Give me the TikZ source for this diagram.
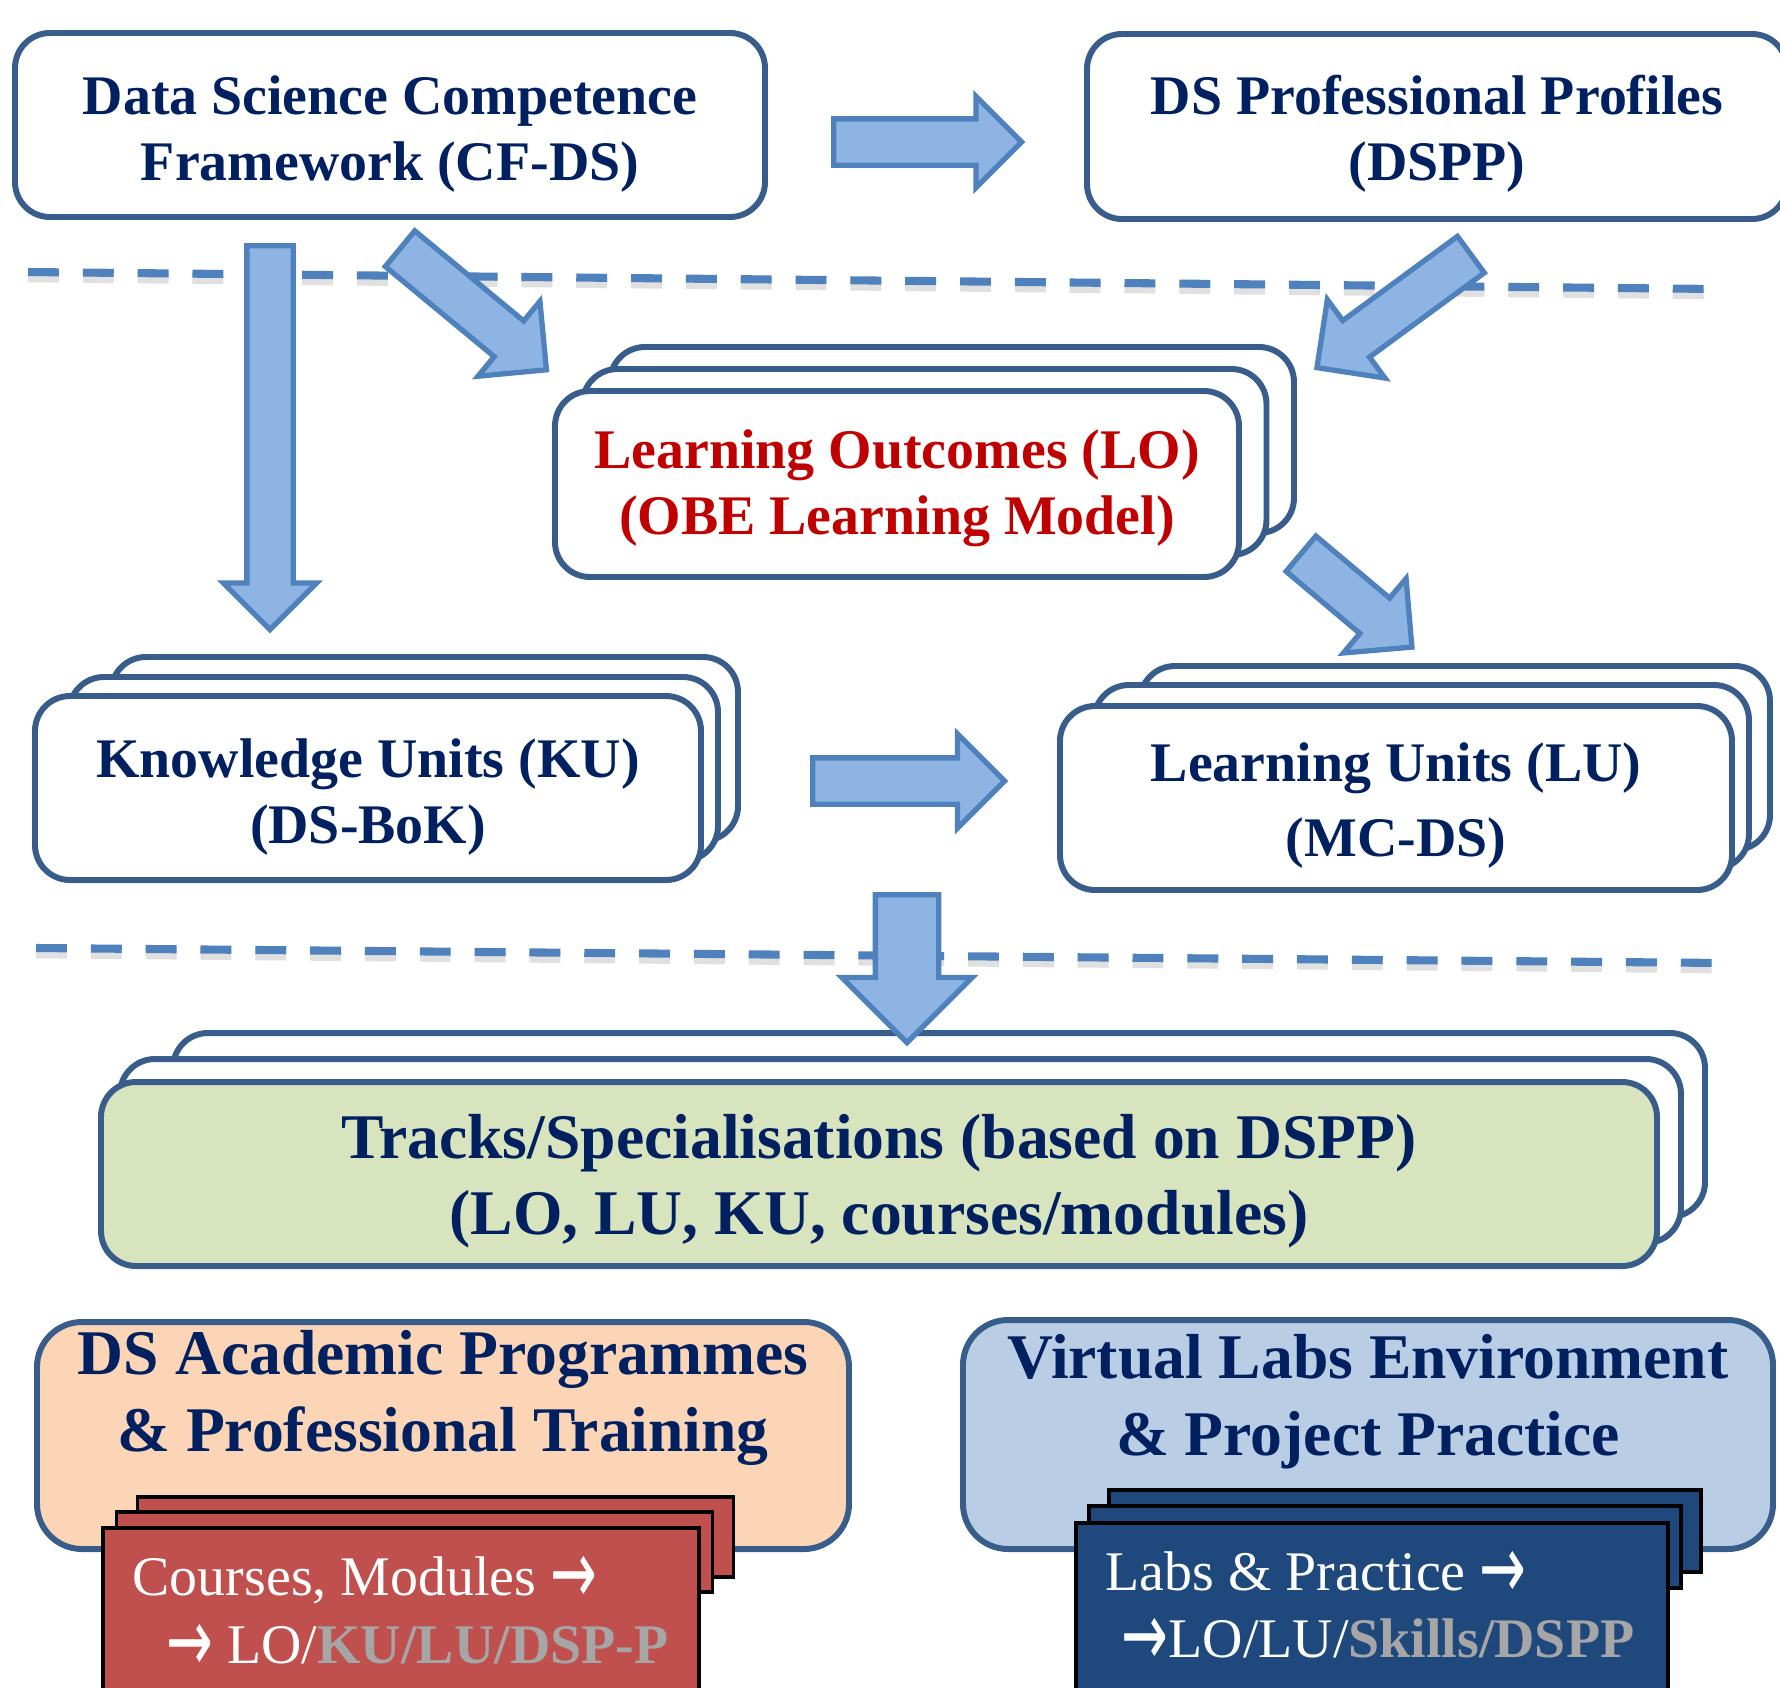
\documentclass[tikz,border=0pt]{standalone}
\usepackage{graphicx}
\usepackage{fontspec}
\setmainfont{Liberation Serif}
\newfontfamily\arrowfont{DejaVu Sans}
\usepackage{tikz}
\usetikzlibrary{positioning}
\usetikzlibrary{shapes.arrows}

\definecolor{boxline}{RGB}{56,93,138}
\definecolor{dsnavy}{RGB}{0,32,96}
\definecolor{lored}{RGB}{192,0,0}
\definecolor{arrowfill}{RGB}{141,180,226}
\definecolor{arrowline}{RGB}{79,129,189}
\definecolor{trackgreen}{RGB}{215,228,189}
\definecolor{progpeach}{RGB}{251,213,181}
\definecolor{labblue}{RGB}{185,205,229}
\definecolor{coursered}{RGB}{192,80,77}
\definecolor{labnavy}{RGB}{31,73,125}
\definecolor{softgray}{RGB}{166,166,166}

% pushes the box text a little down
\newcommand{\boxstrut}[1][0.54cm]{\rule{0pt}{#1}}
% arrow glyph used on the cards
\newcommand{\cardarrow}{{\arrowfont\raisebox{-0.16em}{\scalebox{1}[1.6]{→}}}}

\tikzset{
    box/.style={draw=boxline, line width=1.7pt, fill=white,
        rounded corners=0.35cm, inner sep=0pt, align=center,
        text=dsnavy, font=\bfseries\fontsize{15.9}{18.8}\selectfont},
    blockarrow/.style={single arrow, draw=arrowline, fill=arrowfill,
        line width=1.5pt, inner sep=0pt, single arrow tip angle=90,
        anchor=tail},
    dashline/.style={draw=arrowline, line width=2.3pt,
        dash pattern=on 8.8pt off 6.8pt},
    dashshadow/.style={draw=black!12, line width=3pt,
        dash pattern=on 8.8pt off 6.8pt},
    coursecard/.style={draw=black, line width=1pt, fill=coursered,
        inner sep=0pt},
    labcard/.style={draw=black, line width=1pt, fill=labnavy,
        inner sep=0pt},
    cardtext/.style={anchor=base west, inner sep=0pt, text=white,
        font=\fontsize{15.9}{19.3}\selectfont},
    titletext/.style={inner sep=0pt, align=center, text=dsnavy,
        font=\bfseries\fontsize{18.1}{21.9}\selectfont},
}

\begin{document}
\begin{tikzpicture}
        \useasboundingbox (0,0) rectangle (17.8,-16.88);

        % dashed separators
        \coordinate (sepa1) at (0.28,-2.72);
        \coordinate (sepa2) at (17.18,-2.89);
        \coordinate (sepb1) at (0.36,-9.48);
        \coordinate (sepb2) at (17.24,-9.63);

        \draw[dashshadow] ([yshift=-0.05cm]sepa1) -- ([yshift=-0.05cm]sepa2);
        \draw[dashshadow] ([yshift=-0.05cm]sepb1) -- ([yshift=-0.05cm]sepb2);
        \draw[dashline] (sepa1) -- (sepa2);
        \draw[dashline] (sepb1) -- (sepb2);

        % top row
        \node[box, minimum width=7.50cm, minimum height=1.84cm]
        (cfds) at (3.90,-1.25)
        {\boxstrut[0.56cm]Data Science Competence\\Framework (CF-DS)};

        \node[box, minimum width=7.00cm, minimum height=1.85cm]
        (dspp) at (14.37,-1.265) {\boxstrut DS Professional Profiles\\(DSPP)};

        % learning outcomes
        \foreach \i in {2,1}
        {
            \node[box, minimum width=6.84cm, minimum height=1.86cm]
            (lo\i) at (8.97+\i*0.275, -4.84+\i*0.22) {};
        }
        \node[box, text=lored, minimum width=6.84cm, minimum height=1.86cm]
        (lo) at (8.97,-4.84)
        {\boxstrut[0.48cm]Learning Outcomes (LO)\\(OBE Learning Model)};

        % knowledge units
        \node[box, minimum width=6.27cm, minimum height=1.84cm]
        (ku2) at (4.245,-7.49) {};
        \node[box, minimum width=6.49cm, minimum height=1.84cm]
        (ku1) at (3.935,-7.69) {};
        \node[box, minimum width=6.66cm, minimum height=1.84cm]
        (ku) at (3.68,-7.88) {\boxstrut[0.56cm]Knowledge Units (KU)\\(DS-BoK)};

        % learning units
        \node[box, minimum width=6.30cm, minimum height=1.84cm]
        (lu2) at (14.55,-7.58) {};
        \node[box, minimum width=6.55cm, minimum height=1.84cm]
        (lu1) at (14.215,-7.77) {};
        \node[box, minimum width=6.72cm, minimum height=1.84cm,
            font=\bfseries\fontsize{15.9}{21.3}\selectfont]
        (lu) at (13.96,-7.98) {\boxstrut Learning Units (LU)\\(MC-DS)};

        % tracks
        \node[box, minimum width=15.32cm, minimum height=1.84cm]
        (tr2) at (9.39,-11.25) {};
        \node[box, minimum width=15.61cm, minimum height=1.84cm]
        (tr1) at (9.005,-11.51) {};
        \node[box, fill=trackgreen, minimum width=15.56cm, minimum height=1.84cm,
            font=\bfseries\fontsize{18.1}{21.6}\selectfont]
        (tr) at (8.79,-11.74)
        {\boxstrut[0.59cm]Tracks/Specialisations (based on DSPP)\\(LO, LU, KU, courses/modules)};

        % programmes
        \node[box, fill=progpeach, rounded corners=0.45cm,
            minimum width=8.12cm, minimum height=2.27cm]
        (prog) at (4.43,-14.355) {};
        \node[titletext, below=0.11cm of prog.north]
        (progtitle) {DS Academic Programmes\\\& Professional Training};

        \node[coursecard, minimum width=5.96cm, minimum height=0.80cm]
        (crs2) at (4.355,-15.37) {};
        \node[coursecard, minimum width=5.96cm, minimum height=0.80cm]
        (crs1) at (4.145,-15.52) {};
        \node[coursecard, minimum width=5.96cm, minimum height=2.12cm]
        (crs) at (4.01,-16.34) {};
        \node[cardtext] (crsline1) at (1.32,-15.95) {Courses, Modules \cardarrow};
        \node[cardtext] (crsline2) at (1.66,-16.63)
        {\cardarrow\ LO/\textbf{\color{softgray}KU/LU/DSP-P}};

        % virtual labs
        \node[box, fill=labblue, rounded corners=0.45cm,
            minimum width=8.10cm, minimum height=2.29cm]
        (labs) at (13.68,-14.345) {};
        \node[titletext, below=0.17cm of labs.north]
        (labstitle) {Virtual Labs Environment\\\& Project Practice};

        \node[labcard, minimum width=5.92cm, minimum height=0.82cm]
        (lab2) at (14.05,-15.31) {};
        \node[labcard, minimum width=5.92cm, minimum height=0.82cm]
        (lab1) at (13.85,-15.47) {};
        \node[labcard, minimum width=5.92cm, minimum height=2.17cm]
        (lab) at (13.72,-16.315) {};
        \node[cardtext] (labline1) at (11.05,-15.90) {Labs \& Practice \cardarrow};
        \node[cardtext] (labline2) at (11.21,-16.57)
        {\cardarrow LO/LU/\textbf{\color{softgray}Skills/DSPP}};

        % block arrows
        \node[blockarrow, minimum height=1.88cm, minimum width=0.86cm,
            inner ysep=0.205cm, single arrow head extend=0.225cm]
        (cf2pp) at (8.31,-1.42) {};

        \node[blockarrow, minimum height=1.92cm, minimum width=0.89cm,
            inner ysep=0.205cm, single arrow head extend=0.24cm]
        (ku2lu) at (8.10,-7.81) {};

        \node[blockarrow, rotate=-90, minimum height=3.84cm, minimum width=0.88cm,
            inner ysep=0.205cm, single arrow head extend=0.235cm]
        (cf2ku) at (2.70,-2.43) {};

        \node[blockarrow, rotate=-39.6, minimum height=1.90cm, minimum width=0.91cm,
            inner ysep=0.205cm, single arrow head extend=0.255cm]
        (cf2lo) at (3.98,-2.47) {};

        \node[blockarrow, rotate=-143.7, minimum height=1.91cm, minimum width=0.91cm,
            inner ysep=0.20cm, single arrow head extend=0.26cm]
        (pp2lo) at (14.73,-2.53) {};

        \node[blockarrow, rotate=-40.1, minimum height=1.45cm, minimum width=0.91cm,
            inner ysep=0.205cm, single arrow head extend=0.255cm]
        (lo2lu) at (12.99,-5.52) {};

        \node[blockarrow, rotate=-90, minimum height=1.48cm, minimum width=1.25cm,
            inner ysep=0.29cm, single arrow head extend=0.335cm]
        (lu2tr) at (9.07,-8.92) {};
\end{tikzpicture}
\end{document}
